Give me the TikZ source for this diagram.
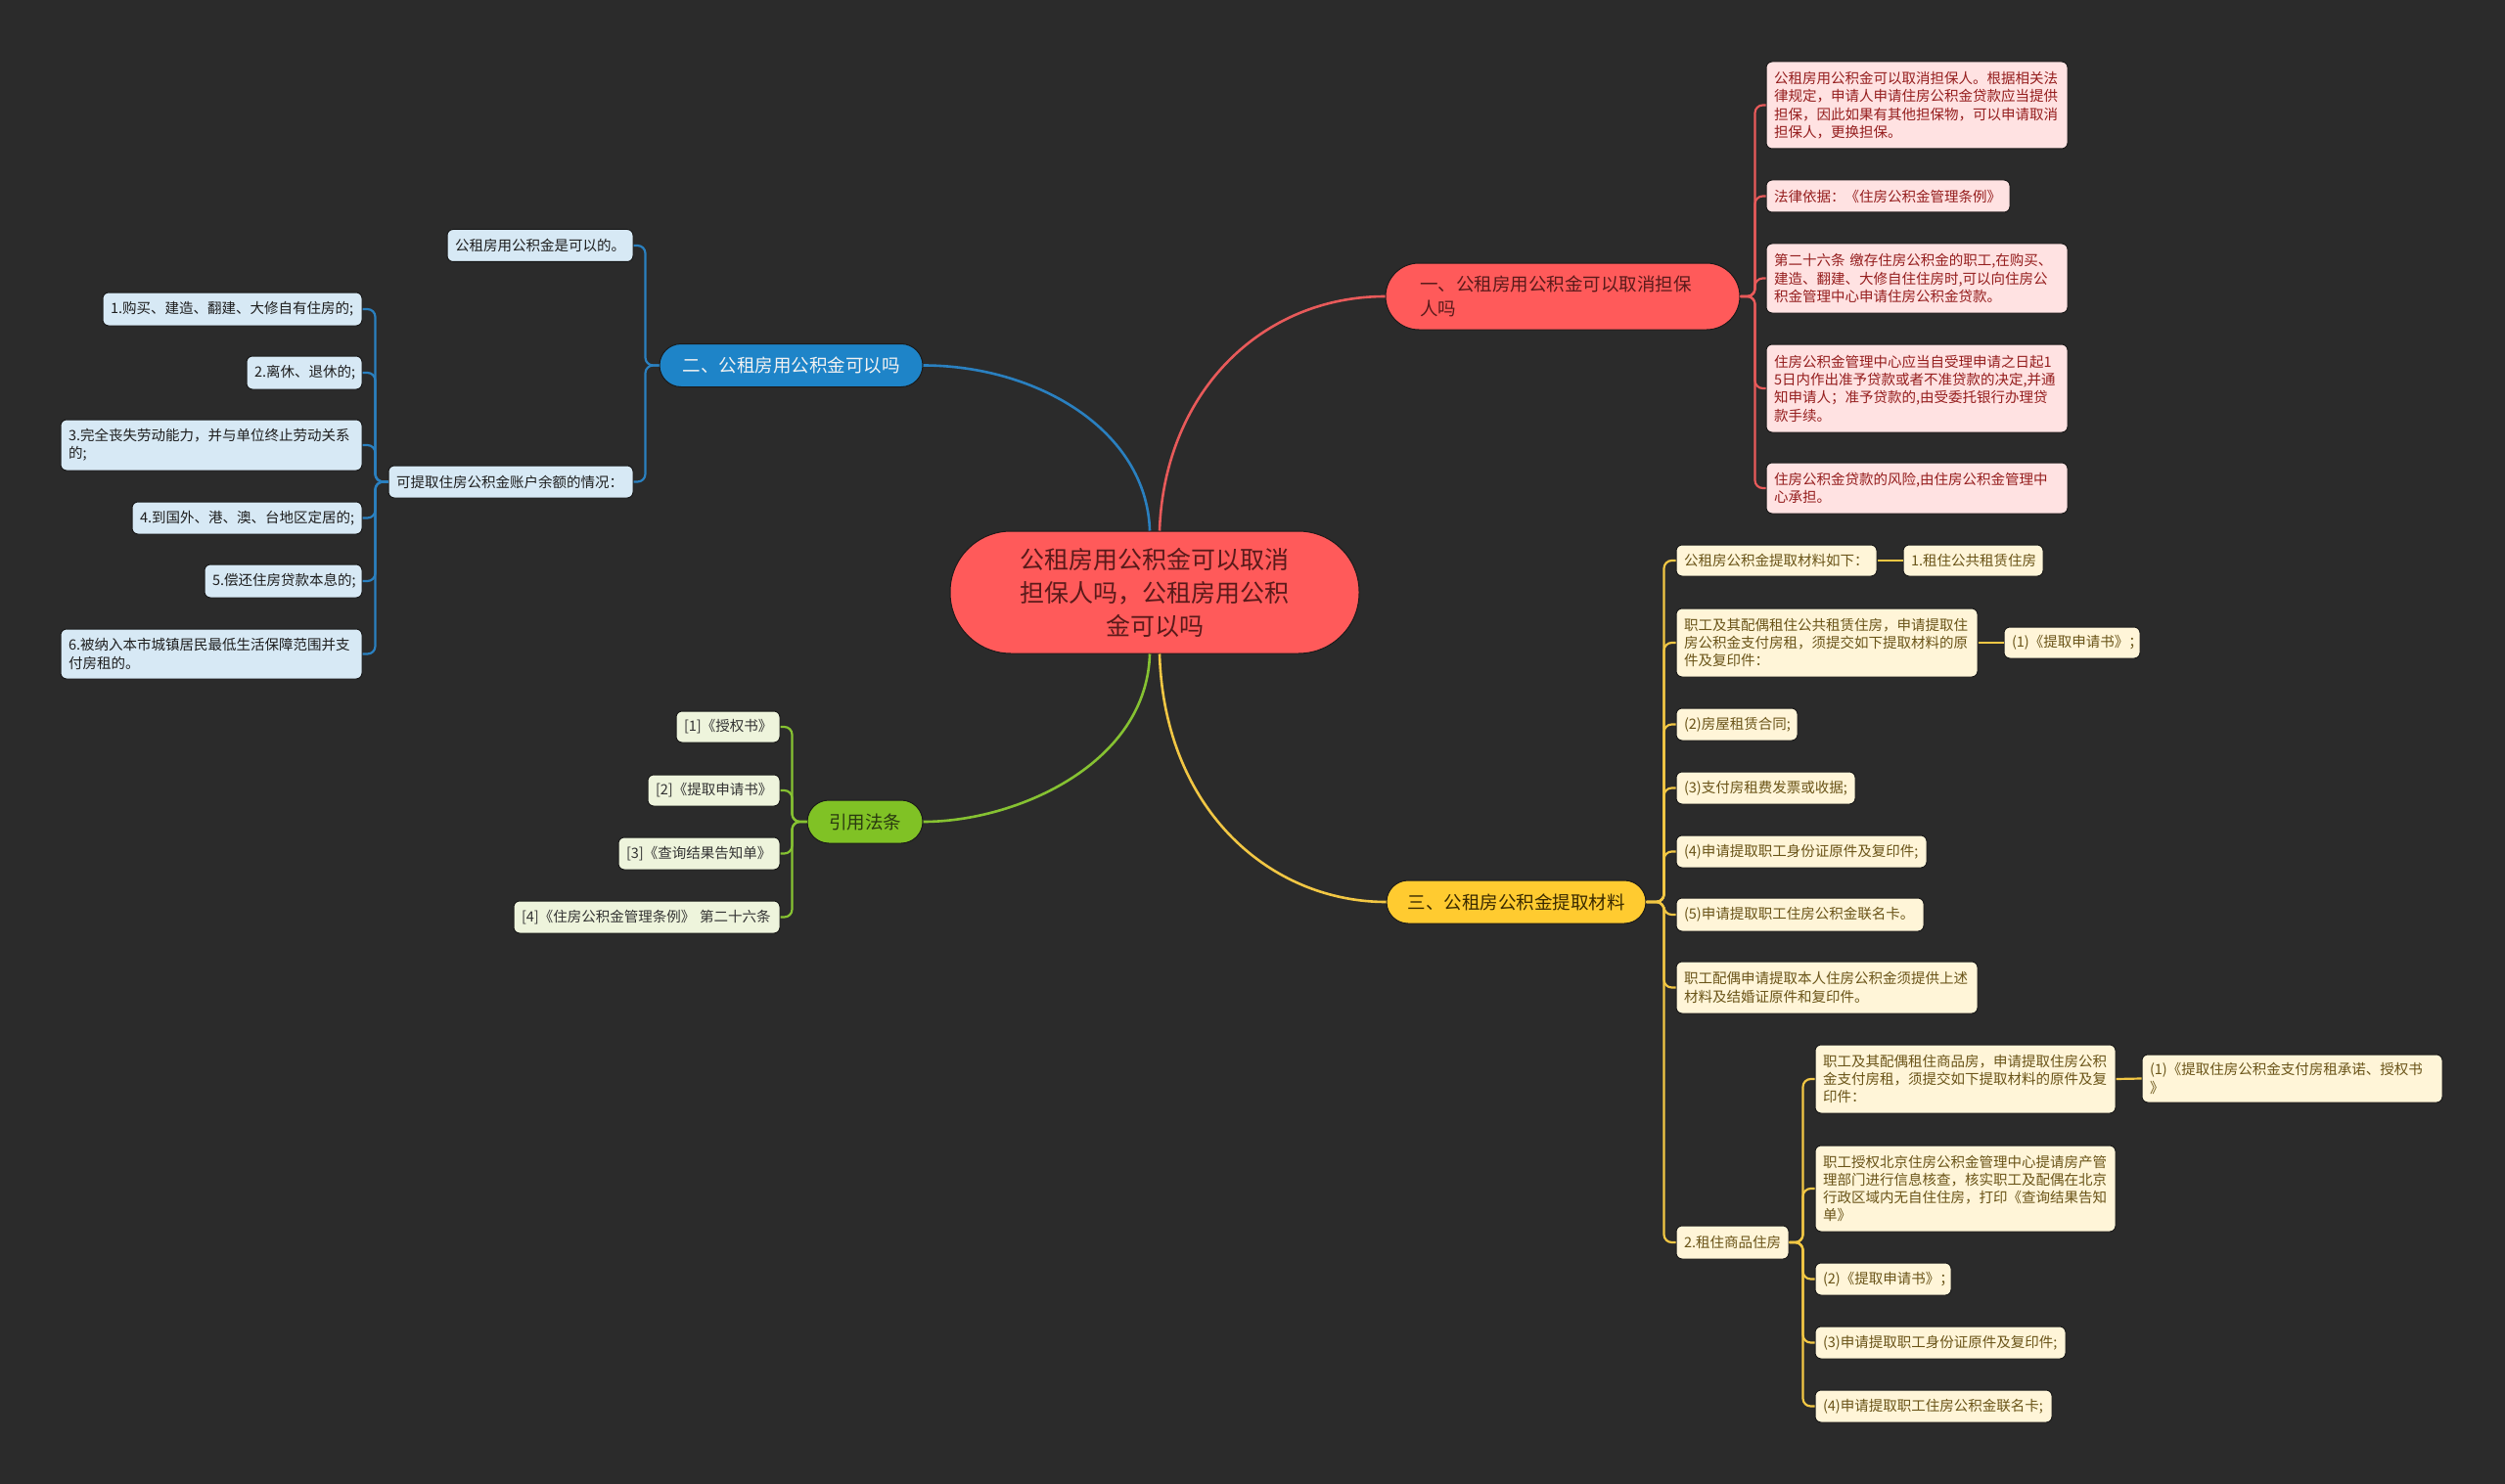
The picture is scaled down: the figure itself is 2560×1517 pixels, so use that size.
\documentclass[tikz,border=0pt]{standalone}
\usepackage{fontspec}
\setmainfont{Noto Sans CJK SC}
\usetikzlibrary{calc}
\definecolor{bgc}{HTML}{2B2B2B}
\definecolor{rootfill}{HTML}{FF5A5A}
\definecolor{roottx}{HTML}{5A1A1A}
\definecolor{redline}{HTML}{E85A5A}
\definecolor{redbg}{HTML}{FFE2E2}
\definecolor{redtx}{HTML}{951E1E}
\definecolor{bluefill}{HTML}{1E84C8}
\definecolor{bluetx}{HTML}{F2F2F2}
\definecolor{blueline}{HTML}{2A80C0}
\definecolor{bluebg}{HTML}{D7E9F5}
\definecolor{bluebtx}{HTML}{1E1E1E}
\definecolor{greenfill}{HTML}{80C225}
\definecolor{greentx}{HTML}{2A3A10}
\definecolor{greenline}{HTML}{86C232}
\definecolor{greenbg}{HTML}{EEF4DC}
\definecolor{greenbtx}{HTML}{333333}
\definecolor{yelfill}{HTML}{FFCB30}
\definecolor{yeltx}{HTML}{3A2A00}
\definecolor{yelline}{HTML}{F2C744}
\definecolor{yelbg}{HTML}{FFF5D8}
\definecolor{yelbtx}{HTML}{6A5418}
\definecolor{edgec}{HTML}{1A1A1A}
\newcommand{\bx}[7]{\pgfmathsetmacro\mytw{#5-16}\node[#2, text width=\mytw pt, minimum height=#6pt] (#1) at (#3,#4) {#7};}
\begin{document}
\begin{tikzpicture}[x=1pt,y=-1pt,
  every node/.style={font=\fontsize{14.5}{18.3}\selectfont, inner xsep=8pt, inner ysep=0pt, rounded corners=6pt, align=left, draw=edgec, line width=1pt},
  redbox/.style={fill=redbg, text=redtx},
  bluebox/.style={fill=bluebg, text=bluebtx},
  greenbox/.style={fill=greenbg, text=greenbtx},
  yelbox/.style={fill=yelbg, text=yelbtx},
  pilltext/.style={font=\fontsize{18.5}{25}\selectfont, rounded corners=22pt, align=center, inner xsep=0pt, minimum height=44pt},
  toR/.style={to path={-- ++(#1,0) |- (\tikztotarget)}},
  toL/.style={to path={-- ++(-#1,0) |- (\tikztotarget)}},
  mainline/.style={line width=2.6pt},
  subline/.style={line width=2.2pt, rounded corners=8pt},
]
\fill[bgc] (0,0) rectangle (2560,1517);
\useasboundingbox (0,0) rectangle (2560,1517);

% root
\node[fill=rootfill, text=roottx, font=\fontsize{25}{34}\selectfont, align=center, rounded corners=62pt, minimum width=418pt, minimum height=125pt, inner xsep=0pt] (root) at (1180,605.5) {公租房用公积金可以取消\\担保人吗，公租房用公积\\金可以吗};

% main branches
\node[fill=rootfill, text=roottx, font=\fontsize{18.5}{25}\selectfont, rounded corners=34pt, text width=292pt, inner xsep=35pt, minimum height=68pt] (red) at (1597,303) {一、公租房用公积金可以取消担保\\人吗};
\node[pilltext, fill=bluefill, text=bluetx, minimum width=269pt] (blue) at (808.5,373.5) {二、公租房用公积金可以吗};
\node[pilltext, fill=yelfill, text=yeltx, minimum width=265pt] (yel) at (1549.5,922) {三、公租房公积金提取材料};
\node[pilltext, fill=greenfill, text=greentx, minimum width=118pt] (green) at (884,840) {引用法条};

% red children
\bx{r1}{redbox}{1959}{107.5}{308}{89}{公租房用公积金可以取消担保人。根据相关法\\律规定，申请人申请住房公积金贷款应当提供\\担保，因此如果有其他担保物，可以申请取消\\担保人，更换担保。}
\bx{r2}{redbox}{1929.5}{200.5}{249}{33}{法律依据：《住房公积金管理条例》}
\bx{r3}{redbox}{1959}{284.5}{308}{71}{第二十六条 缴存住房公积金的职工,在购买、\\建造、翻建、大修自住住房时,可以向住房公\\积金管理中心申请住房公积金贷款。}
\bx{r4}{redbox}{1959}{397}{308}{90}{住房公积金管理中心应当自受理申请之日起1\\5日内作出准予贷款或者不准贷款的决定,并通\\知申请人；准予贷款的,由受委托银行办理贷\\款手续。}
\bx{r5}{redbox}{1959}{499}{308}{52}{住房公积金贷款的风险,由住房公积金管理中\\心承担。}

% blue children
\bx{b1}{bluebox}{552}{251}{190}{33}{公租房用公积金是可以的。}
\bx{b2}{bluebox}{522}{492.5}{250}{33}{可提取住房公积金账户余额的情况：}
\bx{c1}{bluebox}{237.5}{316}{265}{34}{1.购买、建造、翻建、大修自有住房的;}
\bx{c2}{bluebox}{311}{381}{118}{34}{2.离休、退休的;}
\bx{c3}{bluebox}{216}{455}{308}{52}{3.完全丧失劳动能力，并与单位终止劳动关系\\的;}
\bx{c4}{bluebox}{252.5}{529.5}{235}{33}{4.到国外、港、澳、台地区定居的;}
\bx{c5}{bluebox}{289.5}{594}{161}{34}{5.偿还住房贷款本息的;}
\bx{c6}{bluebox}{216}{668.5}{308}{51}{6.被纳入本市城镇居民最低生活保障范围并支\\付房租的。}

% green children
\bx{g1}{greenbox}{744}{743}{106}{32}{[1]《授权书》}
\bx{g2}{greenbox}{729.5}{808}{135}{32}{[2]《提取申请书》}
\bx{g3}{greenbox}{714.5}{872.5}{165}{33}{[3]《查询结果告知单》}
\bx{g4}{greenbox}{661}{937.5}{272}{33}{[4]《住房公积金管理条例》 第二十六条}

% yellow children
\bx{y1}{yelbox}{1815.5}{573}{205}{32}{公租房公积金提取材料如下：}
\bx{y1a}{yelbox}{2016.5}{573}{143}{32}{1.租住公共租赁住房}
\bx{y2}{yelbox}{1867}{657}{308}{70}{职工及其配偶租住公共租赁住房，申请提取住\\房公积金支付房租，须提交如下提取材料的原\\件及复印件：}
\bx{y2a}{yelbox}{2117.5}{657}{139}{32}{(1)《提取申请书》；}
\bx{y3}{yelbox}{1775}{740.5}{124}{33}{(2)房屋租赁合同;}
\bx{y4}{yelbox}{1804.5}{805.5}{183}{33}{(3)支付房租费发票或收据;}
\bx{y5}{yelbox}{1841}{870.5}{256}{33}{(4)申请提取职工身份证原件及复印件;}
\bx{y6}{yelbox}{1839.5}{935}{253}{34}{(5)申请提取职工住房公积金联名卡。}
\bx{y7}{yelbox}{1867}{1009.5}{308}{53}{职工配偶申请提取本人住房公积金须提供上述\\材料及结婚证原件和复印件。}
\bx{y8}{yelbox}{1770.5}{1270}{115}{34}{2.租住商品住房}
\bx{z1}{yelbox}{2008.5}{1103}{307}{70}{职工及其配偶租住商品房，申请提取住房公积\\金支付房租，须提交如下提取材料的原件及复\\印件：}
\bx{z1a}{yelbox}{2342.5}{1102.5}{307}{49}{(1)《提取住房公积金支付房租承诺、授权书\\》}
\bx{z2}{yelbox}{2008.5}{1215}{307}{88}{职工授权北京住房公积金管理中心提请房产管\\理部门进行信息核查，核实职工及配偶在北京\\行政区域内无自住住房，打印《查询结果告知\\单》}
\bx{z3}{yelbox}{1924.5}{1307.5}{139}{33}{(2)《提取申请书》；}
\bx{z4}{yelbox}{1983}{1372.5}{256}{33}{(3)申请提取职工身份证原件及复印件;}
\bx{z5}{yelbox}{1976}{1437.5}{242}{33}{(4)申请提取职工住房公积金联名卡;}

% main connectors
\draw[mainline, blueline] ($(root.north)+(-5,0)$) .. controls (1172,440) and (1060,373.5) .. (blue.east);
\draw[mainline, redline] ($(root.north)+(5,0)$) .. controls (1190,400) and (1290,303) .. (red.west);
\draw[mainline, greenline] ($(root.south)+(-5,0)$) .. controls (1172,780) and (1040,840) .. (green.east);
\draw[mainline, yelline] ($(root.south)+(5,0)$) .. controls (1190,830) and (1300,922) .. (yel.west);

% red sub connectors
\foreach \c in {r1,r2,r3,r4,r5} \draw[subline, redline] (red.east) to[toR=15] (\c.west);
% blue
\foreach \c in {b1,b2} \draw[subline, blueline] (blue.west) to[toL=14] (\c.east);
\foreach \c in {c1,c2,c3,c4,c5,c6} \draw[subline, blueline] (b2.west) to[toL=13] (\c.east);
% green
\foreach \c in {g1,g2,g3,g4} \draw[subline, greenline] (green.west) to[toL=15] (\c.east);
% yellow
\foreach \c in {y1,y2,y3,y4,y5,y6,y7,y8} \draw[subline, yelline] (yel.east) to[toR=18] (\c.west);
\draw[subline, yelline] (y1.east) -- (y1a.west);
\draw[subline, yelline] (y2.east) -- (y2a.west);
\foreach \c in {z1,z2,z3,z4,z5} \draw[subline, yelline] (y8.east) to[toR=14] (\c.west);
\draw[subline, yelline] (z1.east) -- (z1a.west);
\end{tikzpicture}
\end{document}
